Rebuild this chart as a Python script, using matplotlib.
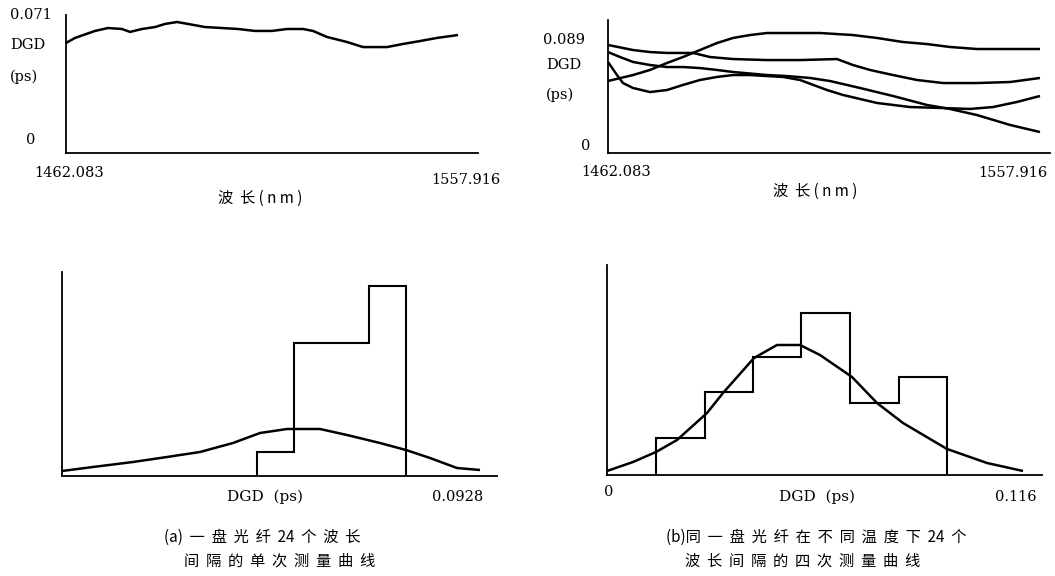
import matplotlib
matplotlib.use("Agg")
import matplotlib.pyplot as plt

W, H = 1055, 576

# ---- (a) one fibre reel, single scan: DGD (ps) versus wavelength (nm)
wl_a = [1462.08, 1464.28, 1469.17, 1472.35, 1475.77, 1477.73, 1480.66, 1483.84,
        1486.29, 1489.22, 1491.91, 1496.06, 1500.22, 1504.13, 1508.29, 1512.45,
        1516.11, 1520.02, 1522.46, 1525.89, 1530.78, 1534.69, 1540.56, 1544.47,
        1548.62, 1552.78, 1557.92]
dgd_a = [0.0566, 0.0592, 0.0628, 0.0643, 0.0638, 0.0623, 0.0638, 0.0648,
         0.0664, 0.0674, 0.0664, 0.0648, 0.0643, 0.0638, 0.0628, 0.0628,
         0.0638, 0.0638, 0.0628, 0.0597, 0.0571, 0.0545, 0.0545, 0.0561,
         0.0576, 0.0592, 0.0607]

# ---- (b) same reel, four scans at different temperatures
wl_b1 = [1462.08, 1467.63, 1471.40, 1475.17, 1478.72, 1482.49, 1486.26, 1489.81,
         1493.58, 1497.35, 1504.68, 1509.12, 1516.43, 1521.76, 1527.53, 1532.86,
         1537.95, 1543.94, 1551.26, 1557.92]
dgd_b1 = [0.0567, 0.0614, 0.0654, 0.0709, 0.0756, 0.0811, 0.0866, 0.0906,
          0.0929, 0.0945, 0.0945, 0.0945, 0.0929, 0.0906, 0.0874, 0.0858,
          0.0835, 0.0819, 0.0819, 0.0819]

wl_b2 = [1462.08, 1467.63, 1471.40, 1475.17, 1480.94, 1484.71, 1489.81, 1497.35,
         1504.68, 1512.88, 1516.43, 1520.21, 1525.31, 1530.64, 1536.40, 1543.94,
         1551.26, 1557.92]
dgd_b2 = [0.0851, 0.0811, 0.0795, 0.0788, 0.0788, 0.0756, 0.0740, 0.0732,
          0.0732, 0.0740, 0.0693, 0.0654, 0.0614, 0.0575, 0.0551, 0.0551,
          0.0559, 0.0591]

wl_b3 = [1462.08, 1464.75, 1467.63, 1471.40, 1475.17, 1478.72, 1482.49, 1486.26,
         1489.81, 1497.35, 1501.79, 1506.90, 1511.33, 1517.99, 1525.31, 1532.86,
         1537.95, 1543.94, 1551.26, 1557.92]
dgd_b3 = [0.0795, 0.0756, 0.0717, 0.0693, 0.0677, 0.0677, 0.0669, 0.0654,
          0.0638, 0.0614, 0.0606, 0.0591, 0.0567, 0.0512, 0.0449, 0.0378,
          0.0347, 0.0299, 0.0221, 0.0165]

wl_b4 = [1462.08, 1464.08, 1465.41, 1467.63, 1471.40, 1475.17, 1478.72, 1482.49,
         1486.26, 1489.81, 1493.58, 1497.35, 1500.90, 1504.68, 1510.67, 1514.22,
         1521.76, 1529.08, 1536.40, 1542.39, 1547.49, 1552.82, 1557.92]
dgd_b4 = [0.0717, 0.0614, 0.0551, 0.0512, 0.0480, 0.0496, 0.0536, 0.0575,
          0.0599, 0.0614, 0.0614, 0.0606, 0.0599, 0.0575, 0.0496, 0.0457,
          0.0394, 0.0362, 0.0354, 0.0347, 0.0362, 0.0402, 0.0449]

# ---- DGD histograms (relative frequency) with fitted distribution curves
edges_a = [0.0457, 0.0544, 0.0632, 0.0719, 0.0806]
freq_a = [0.12, 0.665, 0.665, 0.95]
fit_x_a = [0.0, 0.00726, 0.01664, 0.02461, 0.03234, 0.04007, 0.04640, 0.05273,
           0.06046, 0.06679, 0.07452, 0.08061, 0.08624, 0.09256, 0.09795]
fit_y_a = [0.025, 0.045, 0.07, 0.095, 0.12, 0.165, 0.215, 0.235,
           0.235, 0.205, 0.165, 0.13, 0.09, 0.04, 0.03]

edges_b = [0.0139, 0.0276, 0.0413, 0.0550, 0.0687, 0.0825, 0.0962]
freq_b = [0.185, 0.415, 0.59, 0.81, 0.36, 0.49]
fit_x_b = [0.0, 0.00736, 0.01386, 0.01981, 0.02829, 0.03282, 0.04159, 0.04810,
           0.05461, 0.06026, 0.06932, 0.07639, 0.08375, 0.09620, 0.10751, 0.11770]
fit_y_b = [0.02, 0.065, 0.115, 0.175, 0.31, 0.41, 0.585, 0.65,
           0.65, 0.60, 0.49, 0.36, 0.26, 0.13, 0.06, 0.02]

SERIF = ["DejaVu Serif"]
CJK = ["Noto Sans CJK SC", "DejaVu Serif"]

fig = plt.figure(figsize=(W / 100, H / 100), dpi=100)
fig.patch.set_facecolor("white")


def panel(left, right, top, bottom):
    ax = fig.add_axes([left / W, 1 - bottom / H, (right - left) / W, (bottom - top) / H])
    for side in ("top", "right"):
        ax.spines[side].set_visible(False)
    for side in ("left", "bottom"):
        ax.spines[side].set_linewidth(1.3)
        ax.spines[side].set_color("black")
    ax.set_xticks([])
    ax.set_yticks([])
    ax.patch.set_alpha(0)
    return ax


def label(px, py, s, ha="center", size=10.5, family=SERIF):
    fig.text(px / W, 1 - py / H, s, ha=ha, va="center", fontsize=size,
             family=family, color="black")


line_kw = dict(color="black", lw=1.8, solid_capstyle="butt", clip_on=False)

# (a) top: DGD vs wavelength
ax1 = panel(66, 478, 15, 153)
ax1.plot(wl_a, dgd_a, **line_kw)
ax1.set_xlim(1462.083, 1562.80)
ax1.set_ylim(0, 0.071)
label(10, 15, "0.071", ha="left")
label(10, 45, "DGD", ha="left")
label(10, 77, "(ps)", ha="left")
label(31, 140, "0")
label(69, 173, "1462.083")
label(466, 180, "1557.916")
label(260, 198, "波  长 ( n m )", family=CJK, size=11)

# (b) top: four scans
ax2 = panel(608, 1050, 20, 153)
for wl, dgd in ((wl_b1, dgd_b1), (wl_b2, dgd_b2), (wl_b3, dgd_b3), (wl_b4, dgd_b4)):
    ax2.plot(wl, dgd, **line_kw)
ax2.set_xlim(1462.083, 1560.14)
ax2.set_ylim(0, 0.10475)
label(543, 40, "0.089", ha="left")
label(546, 65, "DGD", ha="left")
label(546, 95, "(ps)", ha="left")
label(586, 146, "0")
label(616, 172, "1462.083")
label(1047, 173, "1557.916", ha="right")
label(815, 191, "波  长 ( n m )", family=CJK, size=11)

# (a) bottom: histogram of one scan
ax3 = panel(62, 497, 272, 476)
ax3.stairs(freq_a, edges_a, baseline=0, fill=False, color="black", lw=1.5)
ax3.plot(fit_x_a, fit_y_a, **line_kw)
ax3.set_xlim(0, 0.10194)
ax3.set_ylim(0, 1.02)
label(265, 497, "DGD  (ps)", size=11)
label(458, 497, "0.0928")
label(262, 537, "(a)  一  盘  光  纤  24  个  波  长", family=CJK, size=11)
label(280, 561, "间  隔  的  单  次  测  量  曲  线", family=CJK, size=11)

# (b) bottom: histogram of four scans
ax4 = panel(607, 1042, 265, 475)
ax4.stairs(freq_b, edges_b, baseline=0, fill=False, color="black", lw=1.5)
ax4.plot(fit_x_b, fit_y_b, **line_kw)
ax4.set_xlim(0, 0.12307)
ax4.set_ylim(0, 1.05)
label(609, 492, "0")
label(817, 497, "DGD  (ps)", size=11)
label(1016, 497, "0.116")
label(816, 537, "(b)同  一  盘  光  纤  在  不  同  温  度  下  24  个", family=CJK, size=11)
label(803, 561, "波  长  间  隔  的  四  次  测  量  曲  线", family=CJK, size=11)

fig.savefig("out.png", dpi=100, facecolor="white")
